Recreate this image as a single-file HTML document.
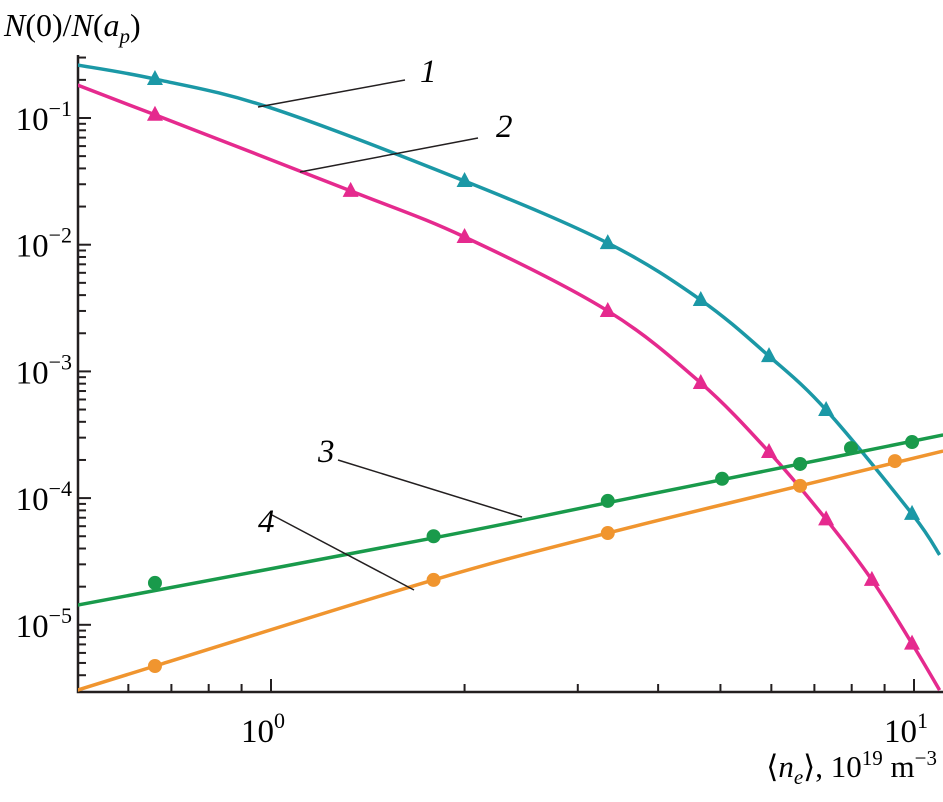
<!DOCTYPE html>
<html><head><meta charset="utf-8"><style>
body{margin:0;background:#fff;}
svg{display:block;}
svg text{font-family:"Liberation Serif","DejaVu Serif",serif;}
</style></head><body>
<svg id="chart" width="943" height="802" viewBox="0 0 943 802" xmlns="http://www.w3.org/2000/svg" font-family="Liberation Serif, DejaVu Serif, serif">
<text x="4" y="36" font-size="32" font-style="italic">N<tspan font-style="normal">(0)/</tspan>N<tspan font-style="normal">(</tspan>a<tspan font-size="21" dy="7">p</tspan><tspan font-style="normal" dy="-7">)</tspan></text>
<text x="937" y="777" font-size="31" text-anchor="end">⟨<tspan font-style="italic">n</tspan><tspan font-style="italic" font-size="21" dy="7">e</tspan><tspan dy="-7">⟩, 10</tspan><tspan font-size="21" dy="-12">19</tspan><tspan dy="12"> m</tspan><tspan font-size="21" dy="-12">−3</tspan></text>
<g id="axes"></g><g id="series"></g><g id="labels"></g>
</svg>
<script>
const xTickVals=[1,10];
const yTickVals=[-1,-2,-3,-4,-5];
const s1x=[0.5,0.66,1,2,3.34,4.66,5.95,7.3,9.93,10.96];
const s1y=[0.262,0.203,0.12,0.0318,0.0103,3.66e-3,1.32e-3,4.96e-4,7.5e-5,3.56e-5];
const m1x=[0.66,2,3.34,4.66,5.95,7.3,9.93];
const m1y=[0.203,0.0318,0.0103,3.66e-3,1.32e-3,4.96e-4,7.5e-5];
const s2x=[0.5,0.66,1.33,2,3.34,4.66,5.95,7.3,8.6,9.93,10.96];
const s2y=[0.182,0.106,0.0266,0.0115,3.0e-3,8.1e-4,2.31e-4,6.8e-5,2.26e-5,7.1e-6,3.05e-6];
const m2x=[0.66,1.33,2,3.34,4.66,5.95,7.3,8.6,9.93];
const m2y=[0.106,0.0266,0.0115,3.0e-3,8.1e-4,2.31e-4,6.8e-5,2.26e-5,7.1e-6];
const s3x=[0.5,1.79,3.34,6.65,11.1];
const s3y=[1.43e-5,4.85e-5,9.2e-5,1.86e-4,3.15e-4];
const m3x=[0.66,1.79,3.34,5.03,6.65,7.98,9.93];
const m3y=[2.14e-5,5.0e-5,9.5e-5,1.42e-4,1.86e-4,2.48e-4,2.77e-4];
const s4x=[0.5,0.66,1.79,3.34,6.65,11.1];
const s4y=[3.05e-6,4.73e-6,2.26e-5,5.3e-5,1.25e-4,2.35e-4];
const m4x=[0.66,1.79,3.34,6.65,9.34];
const m4y=[4.73e-6,2.26e-5,5.3e-5,1.25e-4,1.96e-4];

const NS="http://www.w3.org/2000/svg";
const X0=271,DX=643,Y0=118,DY=126.7,L=78,B=692,T=55,R=943;
const sx=v=>X0+Math.log10(v)*DX;
const sy=v=>Y0+(-1-Math.log10(v))*DY;
function mk(tag,attrs,parent){const e=document.createElementNS(NS,tag);for(const k in attrs)e.setAttribute(k,attrs[k]);parent.appendChild(e);return e;}
const axes=document.getElementById('axes'),ser=document.getElementById('series'),lab=document.getElementById('labels');
let a=mk('path',{d:`M${L},${T}V${B}H${R}`,stroke:'#231f20','stroke-width':2.5,fill:'none'},axes);


for(let d=-1;d<=1;d++)for(let k=1;k<10;k++){const v=k*Math.pow(10,d);const px=sx(v);if(px<L+2||px>R-2)continue;
 const t=mk('line',{x1:px,x2:px,y1:B,y2:B-(k==1?13:8),stroke:'#231f20','stroke-width':2},axes);
 
 }
for(let e=-6;e<=0;e++)for(let k=1;k<10;k++){const v=k*Math.pow(10,e);const py=sy(v);if(py>B-2||py<T)continue;
 const t=mk('line',{x1:L,x2:L+(k==1?13:8),y1:py,y2:py,stroke:'#231f20','stroke-width':2},axes);
 
 }
xTickVals.forEach(v=>{const t=mk('text',{x:sx(v)-8,y:B+50,'font-size':33,'text-anchor':'middle'},axes);
 
 
 t.innerHTML='10<tspan font-size="22" dy="-14">'+Math.log10(v)+'</tspan>';});
yTickVals.forEach(e=>{const t=mk('text',{x:72,y:sy(Math.pow(10,e))+12,'font-size':33,'text-anchor':'end'},axes);
 
 
 t.innerHTML='10<tspan font-size="22" dy="-14">−'+(-e)+'</tspan>';});
function curve(xs,ys){const p=xs.map((x,i)=>[sx(x),sy(ys[i])]);let d=`M${p[0][0]},${p[0][1]}`;
 for(let i=0;i<p.length-1;i++){const p0=p[i-1]||p[i],p1=p[i],p2=p[i+1],p3=p[i+2]||p2;
 d+=`C${p1[0]+(p2[0]-p0[0])/6},${p1[1]+(p2[1]-p0[1])/6} ${p2[0]-(p3[0]-p1[0])/6},${p2[1]-(p3[1]-p1[1])/6} ${p2[0]},${p2[1]}`;}return d;}
const defs=[[s1x,s1y,m1x,m1y,'#1b98a6','tri','series-1'],[s2x,s2y,m2x,m2y,'#e52a8e','tri','series-2'],[s3x,s3y,m3x,m3y,'#199a4b','dot','series-3'],[s4x,s4y,m4x,m4y,'#f0952f','dot','series-4']];
const clip=mk('clipPath',{id:'c'},ser);mk('rect',{x:L,y:0,width:R-L,height:B},clip);
defs.forEach(([lx,ly,mx,my,c,shape,name])=>{const g=mk('g',{'clip-path':'url(#c)'},ser);
 
 
 const p=mk('path',{d:curve(lx,ly),stroke:c,'stroke-width':3.5,fill:'none'},g);
 
 
 mx.forEach((x,i)=>{const px=sx(x),py=sy(my[i]);let m;
  if(shape=='tri')m=mk('polygon',{points:`${px},${py-9} ${px-8},${py+6} ${px+8},${py+6}`,fill:c},g);
  else m=mk('circle',{cx:px,cy:py,r:7,fill:c},g);
  
  });});
[['1',420,82,[405,80,258,107]],['2',496,137,[478,138,300,172]],['3',318,462,[338,460,522,517]],['4',258,532,[272,515,414,590]]].forEach(([s,x,y,l])=>{
 const ln=mk('line',{x1:l[0],y1:l[1],x2:l[2],y2:l[3],stroke:'#231f20','stroke-width':1.5},lab);
 
 
 const t=mk('text',{x:x,y:y,'font-size':33,'font-style':'italic'},lab);t.textContent=s;
 
 });
</script>
</body></html>
